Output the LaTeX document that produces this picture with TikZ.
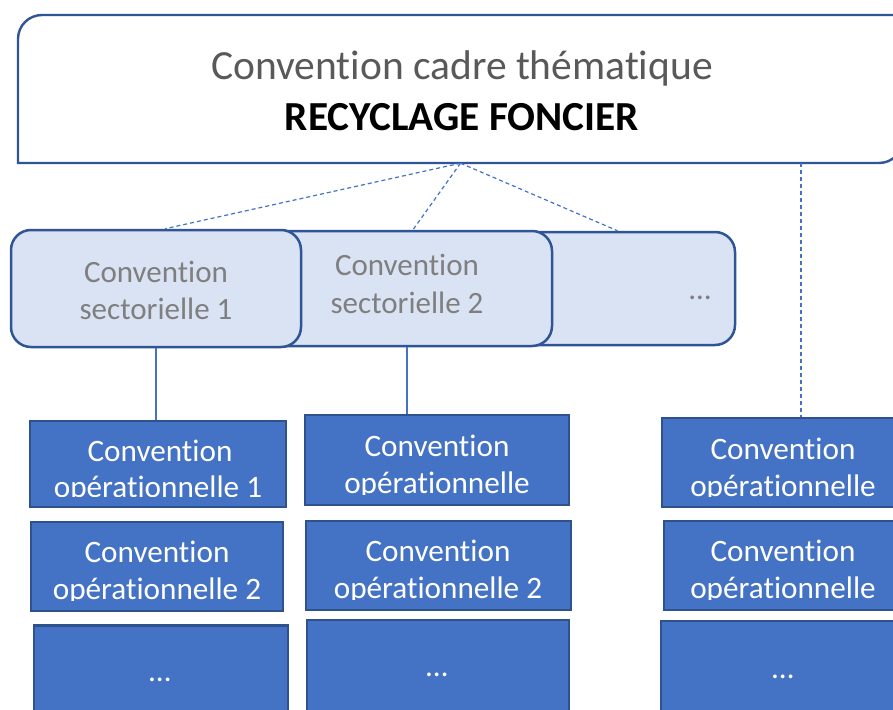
\documentclass[tikz,border=0pt]{standalone}
\usepackage{fontspec}
\setmainfont{Carlito}[Ligatures={NoCommon,NoContextual,NoRequired}]
\definecolor{bdark}{HTML}{2F5597}
\definecolor{opfill}{HTML}{4472C4}
\definecolor{opline}{HTML}{2F528F}
\definecolor{secfill}{HTML}{DAE3F3}
\definecolor{txtgray}{HTML}{595959}
\definecolor{secgray}{HTML}{7F7F7F}
\tikzset{
  topline/.style={draw=bdark, line width=2.4pt, fill=white},
  secbox/.style={draw=bdark, fill=secfill, line width=2.5pt, rounded corners=20pt, inner sep=0pt},
  opbox/.style={draw=opline, fill=opfill, line width=2.2pt, inner sep=0pt},
  toptext/.style={anchor=base, inner sep=0pt, text=txtgray, font=\fontsize{41.5}{48}\selectfont},
  topbold/.style={anchor=base, inner sep=0pt, text=black, font=\fontsize{41.3}{48}\selectfont\bfseries},
  sectext/.style={anchor=base, inner sep=0pt, text=secgray, font=\fontsize{31}{36}\selectfont},
  optext/.style={anchor=base, inner sep=0pt, text=white, font=\fontsize{31.2}{36}\selectfont},
  link/.style={draw=opfill, line width=1.2pt},
  dlink/.style={link, dash pattern=on 4pt off 3pt},
}
\begin{document}
\begin{tikzpicture}[x=1pt,y=-1pt]
\useasboundingbox (0,0) rectangle (893,709);
\clip (0,0) rectangle (893,709);
\fill[white] (0,0) rectangle (893,709);

% top frame
\node[inner sep=0pt, minimum width=885pt, minimum height=148pt] (top) at (460.5,89) {};
\draw[topline] (18,163) -- (18,39) .. controls (18,25.7) and (28.7,15) .. (42,15) -- (903,15) -- (903,139) .. controls (903,152.3) and (892.3,163) .. (879,163) -- cycle;
\node[toptext] (t1) at (462,79) {Convention cadre thématique};
\node[topbold] (t2) at (462,130) {RECYCLAGE FONCIER};

% sector boxes
\node[secbox, minimum width=291pt, minimum height=113pt] (s3) at (589.5,288.5) {};
\node[secbox, minimum width=290pt, minimum height=115pt] (s2) at (407,288.5) {};
\node[secbox, minimum width=290pt, minimum height=117pt] (s1) at (156,288.5) {};
\node[sectext] (s1a) at (156,282) {Convention};
\node[sectext] (s1b) at (156,319) {sectorielle 1};
\node[sectext] (s2a) at (407,275) {Convention};
\node[sectext] (s2b) at (407,313) {sectorielle 2};
\node[sectext] (s3a) at (700,299) {…};

% operational boxes
\node[opbox, minimum width=256pt, minimum height=86pt] (o1a) at (158,464) {};
\node[opbox, minimum width=252pt, minimum height=89pt] (o1b) at (157,566.5) {};
\node[opbox, minimum width=254pt, minimum height=133pt] (o1c) at (161,692) {};
\node[opbox, minimum width=264pt, minimum height=90pt] (o2a) at (437,460) {};
\node[opbox, minimum width=265pt, minimum height=89pt] (o2b) at (438.5,565.5) {};
\node[opbox, minimum width=262pt, minimum height=139pt] (o2c) at (438,689.5) {};
\node[opbox, minimum width=241pt, minimum height=89pt] (o3a) at (782.5,462.5) {};
\node[opbox, minimum width=239pt, minimum height=89pt] (o3b) at (783.5,565.5) {};
\node[opbox, minimum width=242pt, minimum height=138pt] (o3c) at (782,690) {};

% texts in operational boxes (cut at the bottom as in the reference)
\begin{scope}
\clip (0,400) rectangle (893,496.5);
\node[optext] (o1a1) at (160,461) {Convention};
\node[optext] (o1a2) at (158,497) {opérationnelle 1};
\end{scope}
\begin{scope}
\clip (0,510) rectangle (893,600);
\node[optext] (o1b1) at (157,562) {Convention};
\node[optext] (o1b2) at (157,599) {opérationnelle 2};
\end{scope}
\begin{scope}
\clip (0,400) rectangle (893,494);
\node[optext] (o2a1) at (437,456) {Convention};
\node[optext] (o2a2) at (437,493) {opérationnelle};
\end{scope}
\begin{scope}
\clip (0,510) rectangle (893,599);
\node[optext] (o2b1) at (438,561) {Convention};
\node[optext] (o2b2) at (438,598) {opérationnelle 2};
\end{scope}
\begin{scope}
\clip (0,400) rectangle (893,496);
\node[optext] (o3a1) at (783,459) {Convention};
\node[optext] (o3a2) at (783,496) {opérationnelle};
\end{scope}
\begin{scope}
\clip (0,510) rectangle (893,599);
\node[optext] (o3b1) at (783,561) {Convention};
\node[optext] (o3b2) at (783,598) {opérationnelle};
\end{scope}
\node[optext] (o1c1) at (160,681) {…};
\node[optext] (o2c1) at (437,676) {…};
\node[optext] (o3c1) at (783,678) {…};

% connectors
\coordinate (vx) at (801,417);
\draw[dlink] (top.south) -- ([xshift=9pt]s1.north);
\draw[dlink] (top.south) -- ([xshift=6pt]s2.north);
\draw[dlink] (top.south) -- ([xshift=28pt]s3.north);
\draw[dlink] (vx |- top.south) -- (vx |- o3a.north);
\draw[link] (s1.south) -- (s1.south |- o1a.north);
\draw[link] (s2.south) -- (s2.south |- o2a.north);
\end{tikzpicture}
\end{document}
